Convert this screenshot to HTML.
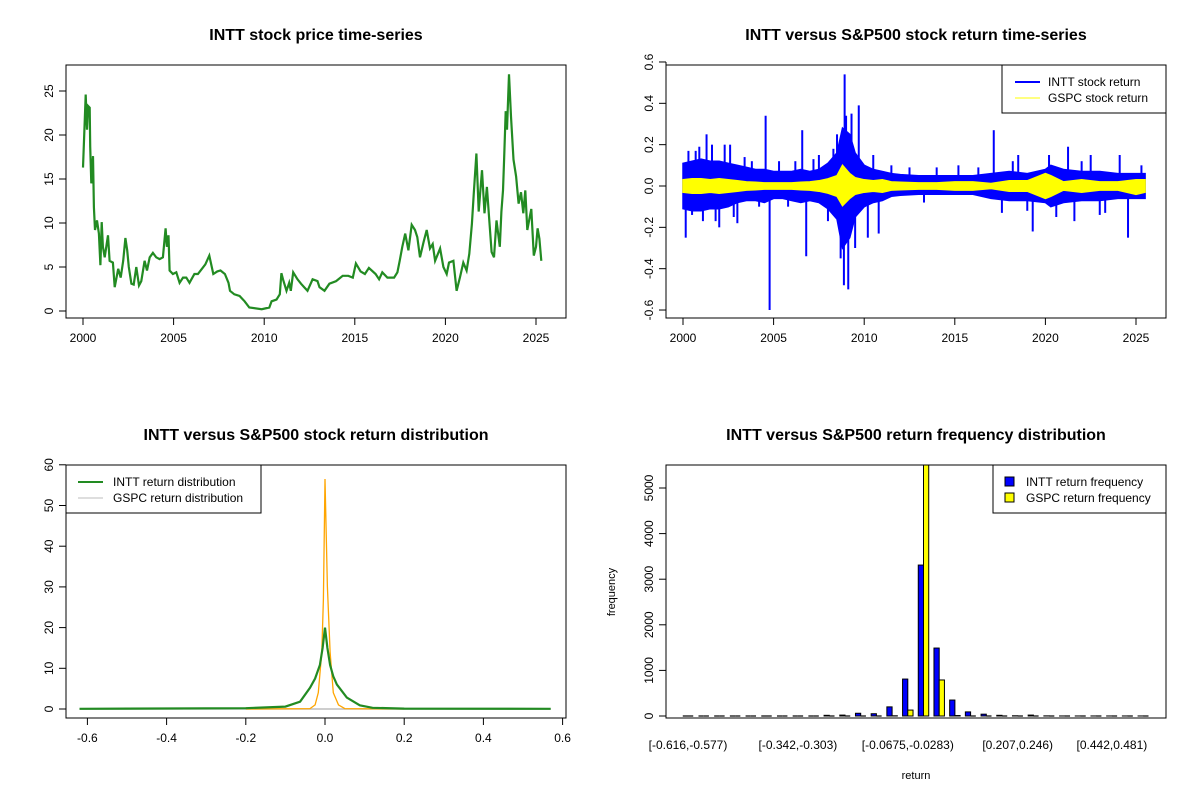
<!DOCTYPE html>
<html><head><meta charset="utf-8"><style>
body{margin:0;background:#fff}
svg{display:block;font-family:"Liberation Sans",Arial,sans-serif}
.t{font-weight:bold;font-size:16px;text-anchor:middle}
.tk{font-size:12px}
</style></head><body>
<svg id="s" width="1200" height="800" viewBox="0 0 1200 800"></svg>
<script>
const priceYears=[2000.0,2000.1,2000.15,2000.22,2000.28,2000.37,2000.4,2000.46,2000.55,2000.6,2000.66,2000.77,2000.88,2000.96,2001.03,2001.1,2001.2,2001.38,2001.47,2001.65,2001.75,2001.94,2002.08,2002.22,2002.34,2002.44,2002.53,2002.67,2002.8,2002.94,2003.09,2003.22,2003.4,2003.53,2003.68,2003.86,2004.04,2004.23,2004.41,2004.56,2004.63,2004.72,2004.78,2004.96,2005.15,2005.33,2005.52,2005.7,2005.88,2006.15,2006.34,2006.75,2006.97,2007.19,2007.41,2007.59,2007.83,2008.03,2008.11,2008.35,2008.64,2008.92,2009.18,2009.86,2010.28,2010.41,2010.68,2010.86,2010.95,2011.04,2011.23,2011.38,2011.47,2011.6,2011.84,2012.03,2012.21,2012.39,2012.67,2012.94,2013.05,2013.33,2013.6,2013.97,2014.33,2014.64,2014.89,2015.06,2015.32,2015.56,2015.78,2016.15,2016.34,2016.52,2016.8,2017.17,2017.35,2017.48,2017.62,2017.78,2017.96,2018.14,2018.32,2018.45,2018.6,2018.79,2018.97,2019.15,2019.3,2019.43,2019.71,2019.89,2020.07,2020.2,2020.44,2020.62,2020.8,2020.99,2021.17,2021.32,2021.46,2021.57,2021.71,2021.84,2022.02,2022.16,2022.29,2022.42,2022.55,2022.68,2022.82,2023.0,2023.09,2023.18,2023.24,2023.33,2023.4,2023.51,2023.62,2023.76,2023.9,2024.04,2024.17,2024.3,2024.41,2024.52,2024.74,2024.88,2025.0,2025.09,2025.19,2025.29];
const priceVals=[16.3,21.8,24.6,20.6,23.3,23.1,18.7,14.5,17.6,11.8,9.2,10.3,8.8,5.2,10.1,7.3,6.1,8.6,5.7,5.5,2.7,4.8,3.8,5.7,8.3,6.9,5.0,3.1,3.0,5.0,2.9,3.4,5.7,4.6,6.1,6.6,6.1,5.9,6.1,9.4,7.3,8.6,4.6,4.2,4.4,3.2,3.8,3.8,3.2,4.2,4.2,5.3,6.3,4.2,4.5,4.6,4.2,3.2,2.3,1.9,1.7,1.1,0.4,0.2,0.4,1.1,1.3,1.9,4.3,3.6,2.3,3.2,2.3,4.4,3.6,3.1,2.7,2.3,3.6,3.4,2.7,2.3,3.1,3.4,4.0,4.0,3.8,5.4,4.5,4.2,4.9,4.2,3.6,4.4,3.8,3.8,4.4,5.7,7.3,8.8,6.9,9.8,9.2,8.4,6.1,7.8,9.2,7.1,7.6,5.7,7.1,5.0,4.2,5.5,5.7,2.3,3.8,5.5,4.6,6.5,9.9,13.4,17.9,11.3,16.0,11.1,14.1,10.3,6.7,6.1,10.3,7.3,11.3,13.7,17.2,22.7,20.6,26.9,22.1,17.2,15.3,12.2,13.5,11.1,13.7,9.2,11.6,6.3,7.3,9.4,8.2,5.7,7.6,6.7,7.1];
const envYears=[2000.0,2000.5,2001,2001.5,2002,2002.5,2003,2003.5,2004,2004.5,2005,2005.5,2006,2006.5,2007,2007.5,2008,2008.5,2008.8,2009.2,2009.5,2010,2010.5,2011,2011.5,2012,2013,2014,2015,2016,2017,2018,2019,2020,2020.3,2021,2022,2023,2024,2025,2025.5];
const inttHi=[0.11,0.12,0.13,0.12,0.12,0.11,0.1,0.09,0.08,0.08,0.07,0.07,0.07,0.08,0.07,0.08,0.11,0.16,0.28,0.25,0.16,0.1,0.08,0.07,0.06,0.055,0.05,0.05,0.05,0.05,0.06,0.07,0.06,0.08,0.1,0.08,0.07,0.07,0.06,0.06,0.06];
const inttLo=[-0.11,-0.12,-0.12,-0.11,-0.11,-0.1,-0.08,-0.07,-0.07,-0.08,-0.06,-0.06,-0.07,-0.08,-0.07,-0.08,-0.11,-0.16,-0.3,-0.25,-0.15,-0.1,-0.08,-0.07,-0.05,-0.045,-0.04,-0.04,-0.04,-0.04,-0.06,-0.07,-0.07,-0.08,-0.1,-0.08,-0.07,-0.07,-0.06,-0.06,-0.06];
const gspcHi=[0.03,0.035,0.035,0.03,0.035,0.03,0.025,0.02,0.018,0.015,0.015,0.015,0.015,0.018,0.02,0.025,0.035,0.05,0.1,0.06,0.04,0.03,0.025,0.03,0.02,0.018,0.015,0.015,0.02,0.02,0.012,0.025,0.025,0.06,0.05,0.02,0.03,0.02,0.02,0.03,0.03];
const gspcLo=[-0.03,-0.035,-0.035,-0.03,-0.035,-0.03,-0.025,-0.02,-0.018,-0.015,-0.015,-0.015,-0.015,-0.018,-0.02,-0.025,-0.035,-0.05,-0.095,-0.06,-0.04,-0.03,-0.025,-0.03,-0.02,-0.018,-0.015,-0.015,-0.02,-0.02,-0.012,-0.025,-0.025,-0.06,-0.05,-0.02,-0.03,-0.02,-0.02,-0.04,-0.03];
const spikeYears=[2000.15,2000.3,2000.5,2000.7,2000.9,2001.1,2001.3,2001.6,2001.8,2002.0,2002.3,2002.6,2002.8,2003.0,2003.4,2003.8,2004.2,2004.56,2004.78,2005.3,2005.8,2006.2,2006.58,2006.8,2007.2,2007.5,2008.0,2008.3,2008.5,2008.7,2008.88,2008.92,2009.0,2009.12,2009.3,2009.5,2009.7,2010.2,2010.5,2010.8,2011.5,2012.5,2013.3,2014.0,2015.2,2016.3,2017.15,2017.6,2018.2,2018.5,2019.0,2019.3,2020.2,2020.6,2021.25,2021.6,2022.0,2022.5,2023.0,2023.3,2024.1,2024.56,2025.3];
const spikeVals=[-0.25,0.17,-0.14,0.17,0.19,-0.17,0.25,0.2,-0.17,-0.2,0.2,0.2,-0.15,-0.18,0.14,0.12,-0.1,0.34,-0.6,0.12,-0.1,0.12,0.27,-0.34,0.13,0.15,-0.17,0.18,0.25,-0.35,-0.48,0.54,0.34,-0.5,0.35,-0.3,0.39,-0.25,0.15,-0.23,0.1,0.09,-0.08,0.09,0.1,0.09,0.27,-0.13,0.12,0.15,-0.12,-0.22,0.15,-0.15,0.19,-0.17,0.12,0.15,-0.14,-0.13,0.15,-0.25,0.1];
const densX=[-0.62,-0.2,-0.1,-0.063,-0.038,-0.025,-0.013,-0.006,0,0.006,0.013,0.021,0.03,0.055,0.088,0.12,0.2,0.57];
const inttDens=[0.05,0.2,0.6,1.8,5.2,7.5,10.8,15,20,15,10.8,8,6,2.8,0.9,0.3,0.1,0.05];
const gspcDensX=[-0.2,-0.038,-0.025,-0.017,-0.008,-0.004,0,0.006,0.013,0.021,0.034,0.05,0.2];
const gspcDens=[0,0.1,1,4,14,27,56.5,30,14,4,1,0.1,0];
const binLabels=["[-0.616,-0.577)","[-0.342,-0.303)","[-0.0675,-0.0283)","[0.207,0.246)","[0.442,0.481)"];
const binLabelIdx=[0,7,14,21,27];
const inttFreq=[0,0,0,0,0,0,0,0,0,15,20,60,50,200,810,3310,1490,350,90,40,15,5,20,3,1,1,1,1,1,1];
const gspcFreq=[0,0,0,0,0,0,0,0,0,0,0,0,0,5,130,6000,790,10,0,0,0,0,0,0,0,0,0,0,0,0];
const yearTicks=[2000,2005,2010,2015,2020,2025];

const S=document.getElementById('s');const NS='http://www.w3.org/2000/svg';
function el(tag,at,txt,parent){const e=document.createElementNS(NS,tag);for(const k in at)e.setAttribute(k,at[k]);if(txt!=null)e.textContent=txt;(parent||S).appendChild(e);return e;}
function box(x0,y0,x1,y1,name){const r=el('rect',{x:x0,y:y0,width:x1-x0,height:y1-y0,fill:'none',stroke:'#000','stroke-width':1});}
function yAxis(x,ticks,fy,lab,name){const g=el('g',{});
 el('line',{x1:x,x2:x,y1:fy(ticks[0]),y2:fy(ticks[ticks.length-1]),stroke:'#000'},null,g);
 ticks.forEach((t,i)=>{const y=fy(t);el('line',{x1:x-7,x2:x,y1:y,y2:y,stroke:'#000'},null,g);
 el('text',{x:x-13,y:y,transform:`rotate(-90 ${x-13} ${y})`,'text-anchor':'middle',class:'tk'},lab[i],g);});}
function xAxis(y,ticks,fx,lab,name){const g=el('g',{});
 el('line',{x1:fx(ticks[0]),x2:fx(ticks[ticks.length-1]),y1:y,y2:y,stroke:'#000'},null,g);
 ticks.forEach((t,i)=>{const x=fx(t);el('line',{x1:x,x2:x,y1:y,y2:y+7,stroke:'#000'},null,g);
 el('text',{x:x,y:y+24,'text-anchor':'middle',class:'tk'},lab[i],g);});}
function title(x,y,s,name){const t=el('text',{x:x,y:y,class:'t'},s);}

{const fx=v=>83+(v-2000)*18.12, fy=v=>311-v*8.8;
title(316,40,'INTT stock price time-series','price-chart-title');
box(66,65,566,318,'price-plot-frame');
xAxis(318,yearTicks,fx,yearTicks.map(String),'price-x-axis');
yAxis(66,[0,5,10,15,20,25],fy,['0','5','10','15','20','25'],'price-y-axis');
let d='';priceYears.forEach((y,i)=>{d+=(i?'L':'M')+fx(y).toFixed(1)+','+fy(priceVals[i]).toFixed(1);});
const p=el('path',{d:d,fill:'none',stroke:'#228b22','stroke-width':2.2});

}

{const fx=v=>683+(v-2000)*18.12, fy=v=>186-v*206.7;
title(916,40,'INTT versus S&P500 stock return time-series','return-chart-title');
box(666,65,1166,318,'return-plot-frame');
xAxis(318,yearTicks,fx,yearTicks.map(String),'return-x-axis');
const rt=[-0.6,-0.4,-0.2,0,0.2,0.4,0.6];
yAxis(666,rt,fy,['-0.6','-0.4','-0.2','0.0','0.2','0.4','0.6'],'return-y-axis');
function area(hi,lo,col,name){let d='';envYears.forEach((y,i)=>{d+=(i?'L':'M')+fx(y).toFixed(1)+','+fy(hi[i]).toFixed(1);});
 for(let i=envYears.length-1;i>=0;i--)d+='L'+fx(envYears[i]).toFixed(1)+','+fy(lo[i]).toFixed(1);d+='Z';
 const p=el('path',{d:d,fill:col,stroke:col,'stroke-width':1.5});}
area(inttHi,inttLo,'#0000ff','intt-return-series');
spikeYears.forEach((y,i)=>{const l=el('line',{x1:fx(y),x2:fx(y),y1:fy(0),y2:fy(spikeVals[i]),stroke:'#0000ff','stroke-width':2});
 
 });
area(gspcHi,gspcLo,'#ffff00','gspc-return-series');
const lg=el('g',{});
el('rect',{x:1002,y:65,width:164,height:48,fill:'#fff',stroke:'#000'},null,lg);
el('line',{x1:1015,x2:1040,y1:82,y2:82,stroke:'#0000ff','stroke-width':2},null,lg);
el('line',{x1:1015,x2:1040,y1:98,y2:98,stroke:'#ffff00','stroke-width':1},null,lg);
el('text',{x:1048,y:86,class:'tk'},'INTT stock return',lg);
el('text',{x:1048,y:102,class:'tk'},'GSPC stock return',lg);}

{const fx=v=>325+v*396, fy=v=>709-v*4.07;
title(316,440,'INTT versus S&P500 stock return distribution','density-chart-title');
box(66,465,566,718,'density-plot-frame');
const xt=[-0.6,-0.4,-0.2,0,0.2,0.4,0.6];
xAxis(718,xt,fx,['-0.6','-0.4','-0.2','0.0','0.2','0.4','0.6'],'density-x-axis');
const yt=[0,10,20,30,40,50,60];
yAxis(66,yt,fy,yt.map(String),'density-y-axis');
const gl=el('line',{x1:fx(-0.62),x2:fx(0.57),y1:fy(0),y2:fy(0),stroke:'#bebebe','stroke-width':1.5});

function curve(xs,ys,col,w,name){let d='';xs.forEach((x,i)=>{d+=(i?'L':'M')+fx(x).toFixed(1)+','+fy(ys[i]).toFixed(1);});
 const p=el('path',{d:d,fill:'none',stroke:col,'stroke-width':w});}
curve(gspcDensX,gspcDens,'#ffa500',1.3,'gspc-density-curve');
curve(densX,inttDens,'#228b22',2.2,'intt-density-curve');
const lg=el('g',{});
el('rect',{x:66,y:465,width:195,height:48,fill:'#fff',stroke:'#000'},null,lg);
el('line',{x1:78,x2:103,y1:482,y2:482,stroke:'#228b22','stroke-width':2},null,lg);
el('line',{x1:78,x2:103,y1:498,y2:498,stroke:'#bebebe','stroke-width':1},null,lg);
el('text',{x:113,y:486,class:'tk'},'INTT return distribution',lg);
el('text',{x:113,y:502,class:'tk'},'GSPC return distribution',lg);}

{const gw=15.7, gx=i=>688+i*gw, fy=v=>716-v*0.0456;
title(916,440,'INTT versus S&P500 return frequency distribution','histogram-chart-title');
const clip=el('clipPath',{id:'c4'});el('rect',{x:666,y:465,width:500,height:253},null,clip);
const g=el('g',{'clip-path':'url(#c4)'});
const bw=gw/3;
function bar(x,v,col){ if(v<=0){return el('line',{x1:x,x2:x+bw,y1:716,y2:716,stroke:'#000','stroke-width':1.2},null,g);}
 return el('rect',{x:x,y:fy(v),width:bw,height:716-fy(v),fill:col,stroke:'#000','stroke-width':1},null,g);}
inttFreq.forEach((v,i)=>{const r=bar(gx(i)-bw,v,'#0000ff');
 
 });
gspcFreq.forEach((v,i)=>{const r=bar(gx(i),v,'#ffff00');
 
 });
box(666,465,1166,718,'histogram-plot-frame');
const yt=[0,1000,2000,3000,4000,5000];
yAxis(666,yt,fy,yt.map(String),'histogram-y-axis');
binLabelIdx.forEach((b,i)=>{const t=el('text',{x:gx(b),y:749,'text-anchor':'middle',class:'tk'},binLabels[i]);
 
 });
const xl=el('text',{x:916,y:779,'text-anchor':'middle','font-size':'11px'},'return');
const yl=el('text',{x:615,y:592,'text-anchor':'middle','font-size':'11px',transform:'rotate(-90 615 592)'},'frequency');
const lg=el('g',{});
el('rect',{x:993,y:465,width:173,height:48,fill:'#fff',stroke:'#000'},null,lg);
el('rect',{x:1005,y:477,width:9,height:9,fill:'#0000ff',stroke:'#000'},null,lg);
el('rect',{x:1005,y:493,width:9,height:9,fill:'#ffff00',stroke:'#000'},null,lg);
el('text',{x:1026,y:486,class:'tk'},'INTT return frequency',lg);
el('text',{x:1026,y:502,class:'tk'},'GSPC return frequency',lg);}
</script>
</body></html>
